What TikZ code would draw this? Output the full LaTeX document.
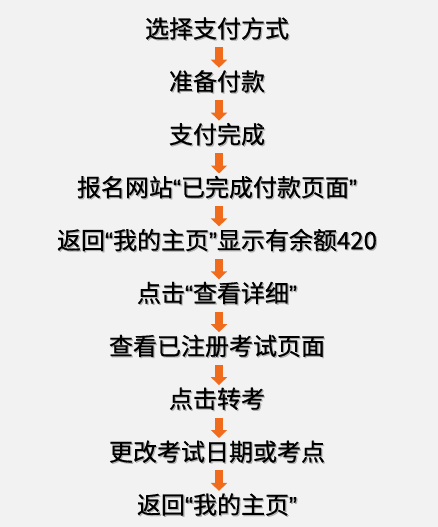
\documentclass[tikz,border=0pt]{standalone}
\usepackage{fontspec}
\newfontfamily\cjk{Noto Sans CJK SC}[UprightFeatures={FakeBold=0.6}]
\newfontfamily\latn{Liberation Sans}[UprightFeatures={FakeBold=0.6}]
\usetikzlibrary{arrows.meta}
\definecolor{bgc}{RGB}{242,242,242}
\definecolor{arr}{RGB}{240,108,28}
\newcommand{\myLq}{{\latn\char"201C}}
\newcommand{\myRq}{{\latn\char"201D}}
\tikzset{
  x=1pt,y=1pt,
  stepnode/.style={inner sep=0pt, text height=20.6pt, text depth=3.4pt,
    font=\cjk\fontsize{24}{28}\selectfont, text=black},
  shadownode/.style={inner sep=0pt, text height=20.6pt, text depth=3.4pt,
    font=\cjk\fontsize{24}{28}\selectfont, text=black!45, opacity=0.6},
  flow/.style={draw=arr, line width=8pt, line cap=butt,
    -{Triangle[width=16pt,length=8pt]}, shorten <=6pt, shorten >=2pt}
}
\newcommand{\stepat}[3]{%
  \node[shadownode] at (218.2,{-(#2)-1.2}) {#3};
  \node[stepnode] (#1) at (217,{-(#2)}) {#3};}
\begin{document}
\begin{tikzpicture}
\fill[bgc] (0,0) rectangle (438,-527);
\useasboundingbox (0,0) rectangle (438,-527);
\stepat{n1}{29}{选择支付方式}
\stepat{n2}{81.9}{准备付款}
\stepat{n3}{134.8}{支付完成}
\stepat{n4}{187.7}{报名网站\myLq 已完成付款页面\myRq}
\stepat{n5}{240.6}{返回\myLq 我的主页\myRq 显示有余额420}
\stepat{n6}{293.5}{点击\myLq 查看详细\myRq}
\stepat{n7}{346.4}{查看已注册考试页面}
\stepat{n8}{399.3}{点击转考}
\stepat{n9}{452.2}{更改考试日期或考点}
\stepat{n10}{505.1}{返回\myLq 我的主页\myRq}
\foreach \a/\b in {n1/n2,n2/n3,n3/n4,n4/n5,n5/n6,n6/n7,n7/n8,n8/n9,n9/n10}
  \draw[flow] ([xshift=2pt]\a.south) -- ([xshift=2pt]\b.north);
\end{tikzpicture}
\end{document}
